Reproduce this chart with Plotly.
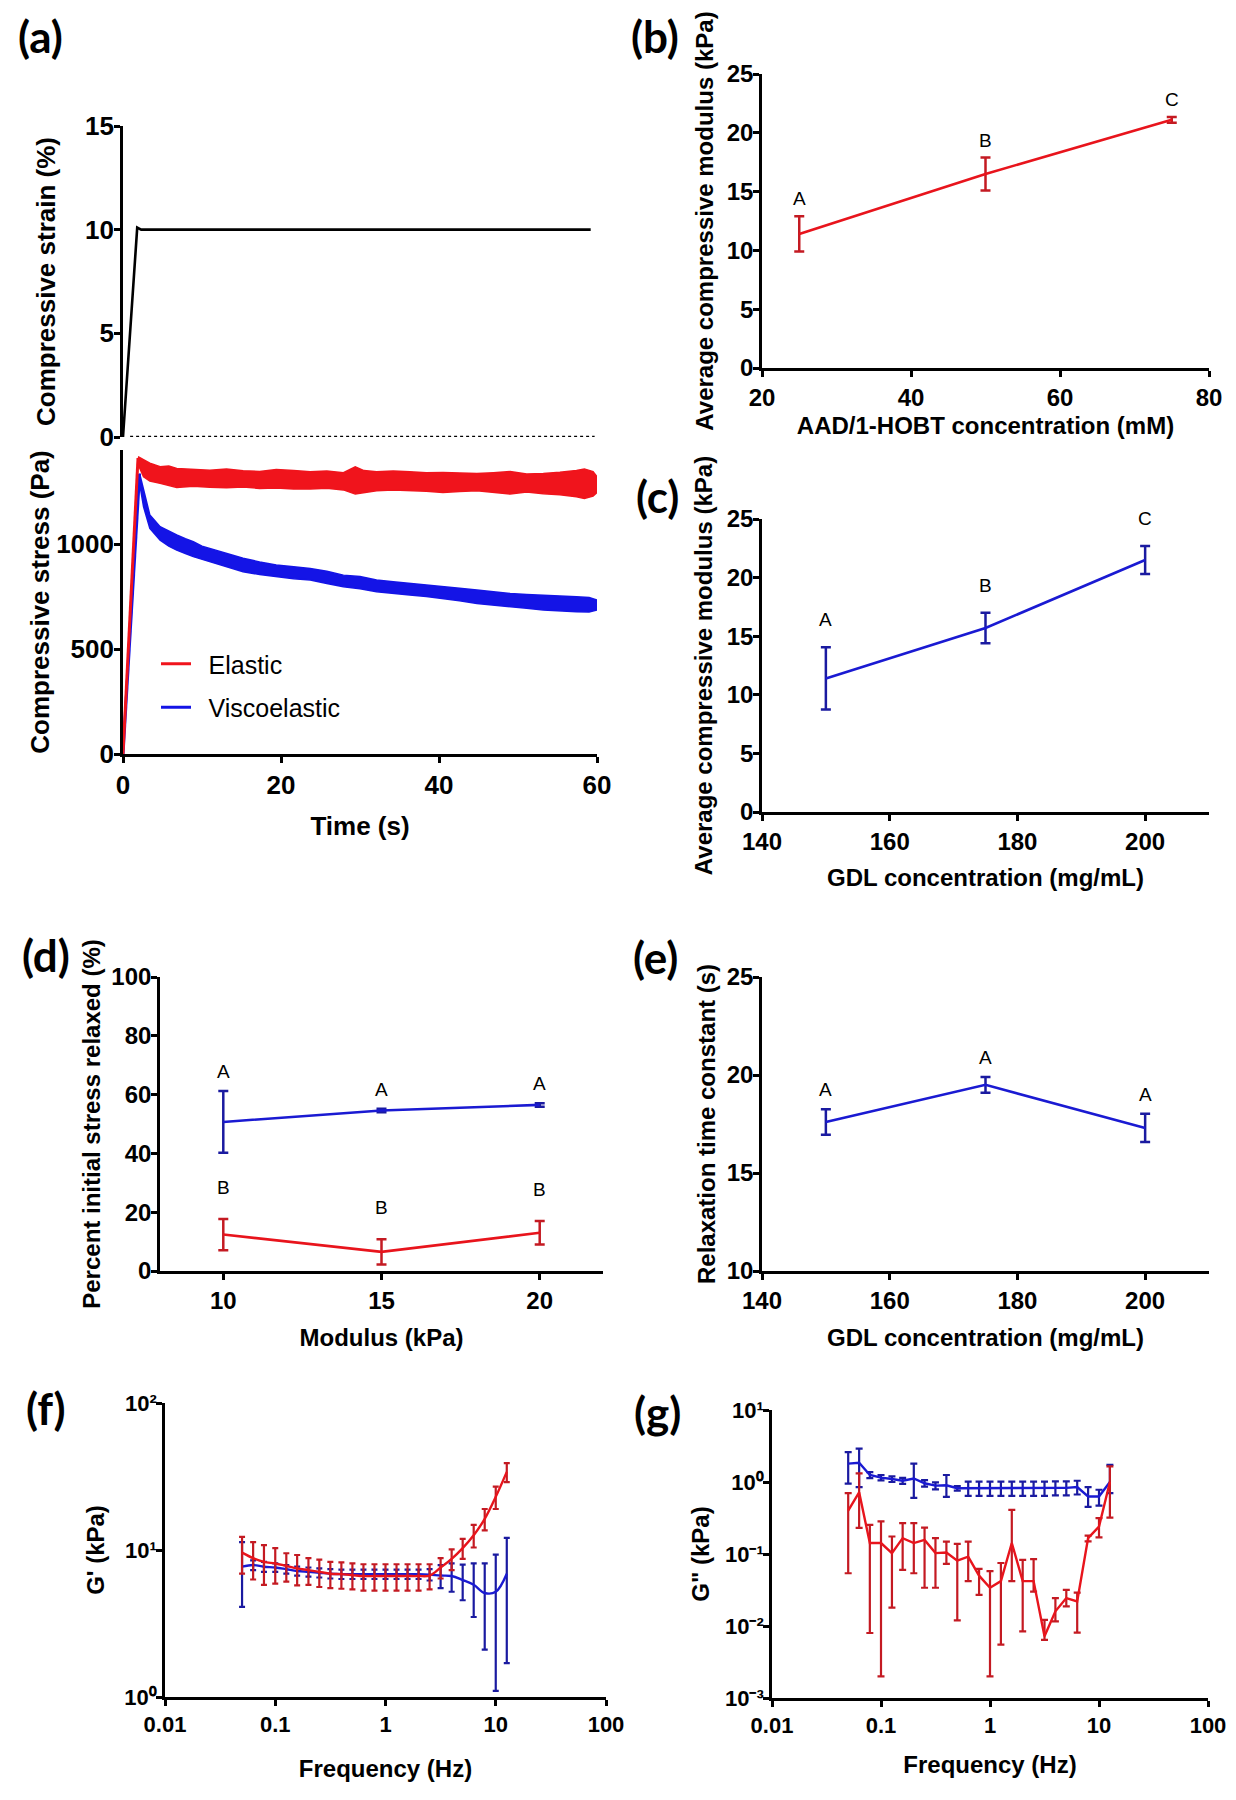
import plotly.graph_objects as go

# ---------------- data ----------------
# (a) compressive strain and stress relaxation
strain_time = [0, 1.8, 2.3, 59.2]
strain_pct = [0, 10.1, 10.0, 10.0]

elastic_rise_time = [0, 1.9]
elastic_rise_pa = [0, 1410]
visco_rise_time = [0, 2.1]
visco_rise_pa = [0, 1335]

elastic_band_time = [1.9, 2.6, 3.4, 4.7, 5.8, 6.8, 8.9, 11.0, 13.1, 15.2, 17.3, 19.4, 21.6, 23.7, 25.8, 27.9, 29.4,
                     30.5, 32.1, 34.2, 36.3, 38.4, 40.5, 42.6, 44.8, 46.9, 49.0, 51.1, 53.2, 55.3, 57.4, 58.4, 59.5, 60.0]
elastic_band_upper = [1416, 1400, 1385, 1368, 1372, 1360, 1356, 1352, 1358, 1349, 1346, 1355, 1350, 1344, 1348, 1340, 1368,
                      1350, 1344, 1348, 1344, 1340, 1341, 1338, 1336, 1340, 1345, 1334, 1336, 1342, 1350, 1358, 1345, 1320]
elastic_band_lower = [1380, 1320, 1300, 1289, 1280, 1270, 1275, 1270, 1268, 1272, 1265, 1267, 1262, 1262, 1266, 1258, 1238,
                      1245, 1254, 1258, 1255, 1252, 1246, 1250, 1254, 1245, 1238, 1248, 1240, 1235, 1225, 1217, 1228, 1246]

visco_band_time = [2.1, 2.6, 3.4, 4.7, 5.8, 6.8, 7.9, 8.9, 10.0, 11.0, 13.1, 15.2, 17.3, 19.4, 21.6, 23.7, 25.8, 27.9,
                   30.0, 32.1, 34.2, 36.3, 38.4, 40.5, 42.6, 44.8, 46.9, 49.0, 51.1, 53.2, 55.3, 57.4, 59.0, 60.0]
visco_band_upper = [1336, 1257, 1138, 1083, 1060, 1043, 1025, 1011, 990, 979, 956, 932, 915, 900, 892, 884, 870, 852,
                    845, 829, 820, 813, 805, 797, 790, 781, 772, 765, 760, 757, 752, 749, 745, 733]
visco_band_lower = [1290, 1178, 1075, 1019, 990, 971, 955, 940, 925, 916, 892, 868, 855, 844, 835, 829, 812, 797,
                    787, 773, 765, 757, 750, 741, 730, 717, 710, 702, 694, 686, 682, 678, 676, 686]

# (b) modulus vs AAD/1-HOBT
aad_conc = [25, 50, 75]
modulus_b = [11.4, 16.5, 21.1]
modulus_b_err = [1.5, 1.4, 0.25]
letters_b = ["A", "B", "C"]

# (c) modulus vs GDL
gdl_conc = [150, 175, 200]
modulus_c = [11.4, 15.7, 21.5]
modulus_c_err = [2.65, 1.3, 1.2]
letters_c = ["A", "B", "C"]

# (d) percent stress relaxed
modulus_kpa = [10, 15, 20]
relax_visco = [50.7, 54.6, 56.5]
relax_visco_err = [10.5, 0.6, 0.6]
relax_elastic = [12.4, 6.5, 13.0]
relax_elastic_err = [5.3, 4.3, 4.0]
letters_d_visco = ["A", "A", "A"]
letters_d_elastic = ["B", "B", "B"]

# (e) relaxation time constant
tau_s = [17.6, 19.5, 17.3]
tau_err = [0.65, 0.4, 0.72]
letters_e = ["A", "A", "A"]

# (f), (g) frequency sweeps
freq_hz = [0.05, 0.063, 0.079, 0.1, 0.126, 0.158, 0.2, 0.251, 0.316, 0.398, 0.501, 0.631, 0.794,
           1.0, 1.259, 1.585, 1.995, 2.512, 3.162, 3.981, 5.012, 6.31, 7.943, 10.0, 12.59]

gprime_elastic = [9.6, 8.8, 8.3, 8.1, 7.8, 7.5, 7.3, 7.1, 6.9, 6.85, 6.75, 6.65, 6.65,
                  6.65, 6.65, 6.65, 6.65, 6.7, 7.6, 8.7, 10.3, 12.6, 16.3, 23.0, 34.0]
gprime_elastic_err = [2.7, 2.5, 2.5, 2.2, 1.7, 1.75, 1.5, 1.5, 1.4, 1.4, 1.35, 1.35, 1.35,
                      1.35, 1.35, 1.35, 1.35, 1.3, 1.2, 1.4, 1.6, 2.2, 2.7, 4.0, 5.0]
gprime_visco = [7.7, 7.9, 7.7, 7.6, 7.4, 7.2, 7.1, 7.0, 6.9, 6.85, 6.85, 6.85, 6.85,
                6.85, 6.85, 6.85, 6.85, 6.8, 6.7, 6.65, 6.25, 5.8, 5.1, 5.2, 6.9]
gprime_visco_err = [3.6, 0.6, 0.6, 0.5, 0.5, 0.5, 0.5, 0.5, 0.5, 0.5, 0.5, 0.5, 0.5,
                    0.5, 0.5, 0.5, 0.5, 0.6, 1.2, 1.45, 1.7, 2.3, 3.0, 4.1, 5.2]

gdprime_visco = [1.8, 1.85, 1.25, 1.15, 1.10, 1.04, 1.12, 0.96, 0.89, 0.90, 0.82, 0.82, 0.82,
                 0.82, 0.82, 0.82, 0.82, 0.82, 0.82, 0.83, 0.83, 0.85, 0.63, 0.63, 1.0]
gdprime_visco_plus = [0.8, 1.05, 0.12, 0.1, 0.1, 0.1, 0.68, 0.1, 0.1, 0.35, 0.06, 0.19, 0.19,
                      0.19, 0.19, 0.19, 0.19, 0.19, 0.19, 0.19, 0.19, 0.19, 0.22, 0.15, 0.73]
gdprime_visco_minus = [0.85, 1.0, 0.12, 0.1, 0.1, 0.1, 0.52, 0.1, 0.1, 0.28, 0.06, 0.18, 0.18,
                       0.18, 0.18, 0.18, 0.18, 0.18, 0.18, 0.18, 0.18, 0.18, 0.18, 0.16, 0.3]
gdprime_elastic = [0.40, 0.72, 0.142, 0.142, 0.103, 0.166, 0.142, 0.157, 0.103, 0.105, 0.081, 0.092, 0.05,
                   0.034, 0.042, 0.142, 0.042, 0.042, 0.0072, 0.016, 0.0244, 0.022, 0.166, 0.24, 1.0]
gdprime_elastic_plus = [0.30, 0.60, 0.112, 0.141, 0.072, 0.102, 0.126, 0.076, 0.063, 0.044, 0.057, 0.057, 0.012,
                        0.024, 0.033, 0.268, 0.041, 0.043, 0.005, 0.0084, 0.0074, 0.007, 0.014, 0.075, 0.65]
gdprime_elastic_minus = [0.346, 0.49, 0.134, 0.14, 0.085, 0.106, 0.088, 0.123, 0.069, 0.032, 0.069, 0.05, 0.023,
                         0.032, 0.0365, 0.1, 0.0336, 0.012, 0.0008, 0.0044, 0.0057, 0.0139, 0.016, 0.07, 0.68]

# tick labels
freq_ticks = [0.01, 0.1, 1, 10, 100]
freq_text = ["0.01", "0.1", "1", "10", "100"]
gp_ticks = [1, 10, 100]
gp_text = ["10\u2070", "10\u00b9", "10\u00b2"]
gdp_ticks = [0.001, 0.01, 0.1, 1, 10]
gdp_text = ["10\u207b\u00b3", "10\u207b\u00b2", "10\u207b\u00b9", "10\u2070", "10\u00b9"]

# ---------------- styling ----------------
PAGE_W, PAGE_H = 1236, 1800
OFF = 8                      # default page body margin
W, H = PAGE_W - 2 * OFF, PAGE_H - 2 * OFF
FONT = "Liberation Sans, Arial, sans-serif"
LABEL_FONT = "Lato, Open Sans, Liberation Sans, sans-serif"
RED = "#e8141c"
RED_DARK = "#c41a22"
BLUE = "#1a1ad2"
BLUE_DARK = "#1a1aa0"
BAND_RED = "#f0141c"
BAND_BLUE = "#1414e6"


def px_x(x):
    return (x - OFF) / W


def px_y(y):
    return 1 - (y - OFF) / H


def dom_x(a, b):
    return [px_x(a), px_x(b)]


def dom_y(top, bottom):
    return [px_y(bottom), px_y(top)]


def axis(domain, rng, anchor, tickvals=None, ticktext=None, size=24, typ="linear", visible=True,
         title=None, tsize=24, standoff=0, label_shift=0):
    d = dict(domain=domain, range=rng, anchor=anchor, type=typ, showline=True, linecolor="black",
             linewidth=2.6, ticks="outside", ticklen=6, tickwidth=2.6, tickcolor="black",
             showgrid=False, zeroline=False, visible=visible, automargin=False,
             ticklabelstandoff=label_shift,
             tickfont=dict(family=FONT, size=size, color="black", weight="bold"))
    if tickvals is not None:
        d["tickmode"] = "array"
        d["tickvals"] = tickvals
    if ticktext is not None:
        d["ticktext"] = ticktext
    if title is not None:
        d["title"] = dict(text=title, standoff=standoff,
                          font=dict(family=FONT, size=tsize, color="black", weight="bold"))
    return d


fig = go.Figure()

# ---- (a) top: strain ----
fig.add_trace(go.Scatter(x=strain_time, y=strain_pct, mode="lines", line=dict(color="black", width=2.6),
                         xaxis="x", yaxis="y", showlegend=False))

# ---- (a) bottom: stress ----
fig.add_trace(go.Scatter(x=visco_band_time + visco_band_time[::-1],
                         y=visco_band_upper + visco_band_lower[::-1],
                         mode="lines", fill="toself", fillcolor=BAND_BLUE,
                         line=dict(color=BAND_BLUE, width=1.5), xaxis="x2", yaxis="y2", showlegend=False))
fig.add_trace(go.Scatter(x=elastic_band_time + elastic_band_time[::-1],
                         y=elastic_band_upper + elastic_band_lower[::-1],
                         mode="lines", fill="toself", fillcolor=BAND_RED,
                         line=dict(color=BAND_RED, width=1.5), xaxis="x2", yaxis="y2", showlegend=False))
fig.add_trace(go.Scatter(x=visco_rise_time, y=visco_rise_pa, mode="lines", name="\u2002Viscoelastic",
                         line=dict(color=BAND_BLUE, width=3), xaxis="x2", yaxis="y2",
                         showlegend=True, legendrank=2, legendgroup="v"))
fig.add_trace(go.Scatter(x=elastic_rise_time, y=elastic_rise_pa, mode="lines", name="\u2002Elastic",
                         line=dict(color=BAND_RED, width=3), xaxis="x2", yaxis="y2",
                         showlegend=True, legendrank=1, legendgroup="e"))


def errline(x, y, err, color, ecolor, xa, ya, width=5, thick=2.5, lw=2.6, shape="linear", minus=None):
    ed = dict(type="data", array=err, color=ecolor, thickness=thick, width=width, visible=True)
    if minus is not None:
        ed["symmetric"] = False
        ed["arrayminus"] = minus
    return go.Scatter(x=x, y=y, mode="lines", line=dict(color=color, width=lw, shape=shape),
                      error_y=ed, xaxis=xa, yaxis=ya, showlegend=False)


# ---- (b) ----
fig.add_trace(errline(aad_conc, modulus_b, modulus_b_err, RED, RED_DARK, "x3", "y3"))
# ---- (c) ----
fig.add_trace(errline(gdl_conc, modulus_c, modulus_c_err, BLUE, BLUE_DARK, "x4", "y4"))
# ---- (d) ----
fig.add_trace(errline(modulus_kpa, relax_visco, relax_visco_err, BLUE, BLUE_DARK, "x5", "y5"))
fig.add_trace(errline(modulus_kpa, relax_elastic, relax_elastic_err, RED, RED_DARK, "x5", "y5"))
# ---- (e) ----
fig.add_trace(errline(gdl_conc, tau_s, tau_err, BLUE, BLUE_DARK, "x6", "y6"))
# ---- (f) ----
fig.add_trace(errline(freq_hz, gprime_visco, gprime_visco_err, BLUE, BLUE_DARK, "x7", "y7",
                      width=3, thick=2.2, lw=2.4, shape="spline"))
fig.add_trace(errline(freq_hz, gprime_elastic, gprime_elastic_err, RED, RED_DARK, "x7", "y7",
                      width=3, thick=2.2, lw=2.4, shape="spline"))
# ---- (g) ----
fig.add_trace(errline(freq_hz, gdprime_visco, gdprime_visco_plus, BLUE, BLUE_DARK, "x8", "y8",
                      width=3.5, thick=2.2, lw=2.4, minus=gdprime_visco_minus))
fig.add_trace(errline(freq_hz, gdprime_elastic, gdprime_elastic_plus, RED, RED_DARK, "x8", "y8",
                      width=3.5, thick=2.2, lw=2.4, minus=gdprime_elastic_minus))

# ---------------- axes ----------------
AX = dom_x(123, 597)
GC = "GDL concentration (mg/mL)"
ACM = "Average compressive modulus (kPa)"
YS = -5
layout_axes = dict(
    xaxis=axis(AX, [0, 60], "y", visible=False),
    yaxis=axis(dom_y(126, 437), [0, 15], "x", tickvals=[0, 5, 10, 15], size=26,
               title="Compressive strain (%)", tsize=26, standoff=22, label_shift=YS),
    xaxis2=axis(AX, [0, 60], "y2", tickvals=[0, 20, 40, 60], size=26,
                title="Time (s)", tsize=26, standoff=18),
    yaxis2=axis(dom_y(450, 754), [0, 1448], "x2", tickvals=[0, 500, 1000], size=26,
                title="Compressive stress (Pa)", tsize=26, standoff=0, label_shift=YS),
    xaxis3=axis(dom_x(762, 1209), [20, 80], "y3", tickvals=[20, 40, 60, 80],
                title="AAD/1-HOBT concentration (mM)", standoff=8),
    yaxis3=axis(dom_y(74, 368), [0, 25], "x3", tickvals=[0, 5, 10, 15, 20, 25], title=ACM, standoff=7,
                label_shift=YS),
    xaxis4=axis(dom_x(762, 1209), [140, 210], "y4", tickvals=[140, 160, 180, 200], title=GC, standoff=16),
    yaxis4=axis(dom_y(519, 812), [0, 25], "x4", tickvals=[0, 5, 10, 15, 20, 25], title=ACM, standoff=8,
                label_shift=YS),
    xaxis5=axis(dom_x(160, 603), [8, 22], "y5", tickvals=[10, 15, 20], title="Modulus (kPa)", standoff=17),
    yaxis5=axis(dom_y(977, 1271), [0, 100], "x5", tickvals=[0, 20, 40, 60, 80, 100],
                title="Percent initial stress relaxed (%)", standoff=4, label_shift=YS),
    xaxis6=axis(dom_x(762, 1209), [140, 210], "y6", tickvals=[140, 160, 180, 200], title=GC, standoff=17),
    yaxis6=axis(dom_y(977, 1271), [10, 25], "x6", tickvals=[10, 15, 20, 25],
                title="Relaxation time constant (s)", standoff=5, label_shift=YS),
    xaxis7=axis(dom_x(165, 606), [-2, 2], "y7", typ="log", size=22, tickvals=freq_ticks, ticktext=freq_text,
                title="Frequency (Hz)", standoff=24),
    yaxis7=axis(dom_y(1403, 1697), [0, 2], "x7", typ="log", size=22, tickvals=gp_ticks, ticktext=gp_text,
                title="G' (kPa)", standoff=13, label_shift=YS),
    xaxis8=axis(dom_x(772, 1208), [-2, 2], "y8", typ="log", size=22, tickvals=freq_ticks, ticktext=freq_text,
                title="Frequency (Hz)", standoff=19),
    yaxis8=axis(dom_y(1410, 1698), [-3, 1], "x8", typ="log", size=22, tickvals=gdp_ticks, ticktext=gdp_text,
                title='G" (kPa)', standoff=9, label_shift=YS),
)

annotations = []

# panel labels: top row anchored to the page top so the text box stays inside the figure
for lab, x, y, anchor in [("(a)", 40, None, "top"), ("(b)", 655, None, "top"), ("(c)", 657, 496, "middle"),
                          ("(d)", 46, 955, "middle"), ("(e)", 656, 957, "middle"),
                          ("(f)", 45, 1408, "middle"), ("(g)", 657, 1412, "middle")]:
    annotations.append(dict(text=lab, x=px_x(x), y=1.0 if y is None else px_y(y), xref="paper", yref="paper",
                            xanchor="center", yanchor=anchor, showarrow=False,
                            font=dict(family=LABEL_FONT, size=44, color="black", weight="bold")))


def letters(xs, ys, errs, labs, xa, ya, shift):
    for xv, yv, ev, lab in zip(xs, ys, errs, labs):
        annotations.append(dict(text=lab, x=xv, y=yv + ev, xref=xa, yref=ya, xanchor="center",
                                yanchor="bottom", yshift=shift, showarrow=False,
                                font=dict(family=FONT, size=19, color="black")))


letters(aad_conc, modulus_b, modulus_b_err, letters_b, "x3", "y3", 5)
letters(gdl_conc, modulus_c, modulus_c_err, letters_c, "x4", "y4", 15)
letters(modulus_kpa, relax_visco, relax_visco_err, letters_d_visco, "x5", "y5", 7)
letters(modulus_kpa, relax_elastic, relax_elastic_err, letters_d_elastic, "x5", "y5", 19)
letters(gdl_conc, tau_s, tau_err, letters_e, "x6", "y6", 7)

shapes = [dict(type="line", xref="x domain", x0=0.015, x1=0.995, yref="y", y0=0, y1=0,
               line=dict(color="black", width=2.6, dash="dot"))]

fig.update_layout(
    width=W, height=H, margin=dict(l=0, r=0, t=0, b=0, pad=0, autoexpand=False),
    paper_bgcolor="white", plot_bgcolor="white",
    showlegend=True,
    legend=dict(x=px_x(156), y=px_y(641), xanchor="left", yanchor="top", bgcolor="rgba(0,0,0,0)",
                font=dict(family=FONT, size=25, color="black"), itemwidth=30, tracegroupgap=8),
    annotations=annotations, shapes=shapes,
    **layout_axes,
)

fig.write_html("out.html")
